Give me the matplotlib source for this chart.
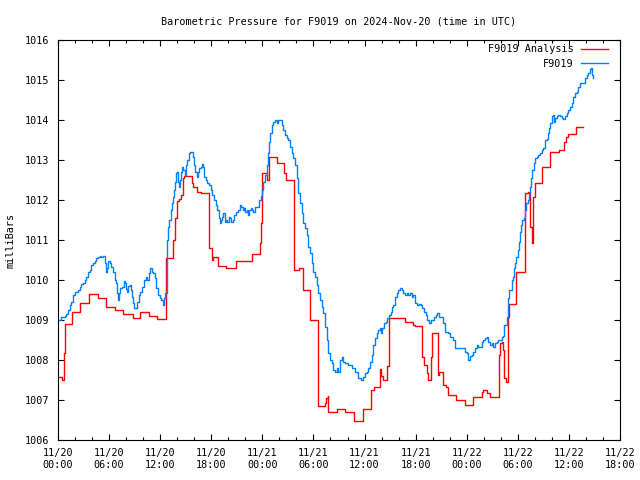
import matplotlib
matplotlib.use("Agg")
import matplotlib.pyplot as plt
import numpy as np

# ---- data (hours since 2024-11-20 00:00 UTC, pressure in mb) ----
obs_hours = [0.00, 0.39, 0.79, 0.97, 1.17, 1.37, 1.56, 1.76, 1.96, 2.15, 2.35, 2.55, 2.74, 2.94,
             3.14, 3.32, 3.52, 3.72, 3.91, 4.11, 4.31, 4.50, 4.70, 4.90, 5.09, 5.28, 5.48, 5.60,
             5.75, 5.87, 6.07, 6.26, 6.46, 6.66, 6.85, 6.96, 7.05, 7.16, 7.32, 7.55, 7.72, 7.83,
             7.95, 8.10, 8.22, 8.42, 8.54, 8.69, 8.84, 8.93, 9.13, 9.28, 9.48, 9.67, 9.87, 10.10,
             10.30, 10.49, 10.65, 10.84, 11.00, 11.16, 11.36, 11.54, 11.74, 11.94, 12.13, 12.33,
             12.45, 12.60, 12.77, 12.95, 13.07, 13.24, 13.35, 13.47, 13.62, 13.74, 13.86, 14.01,
             14.13, 14.25, 14.33, 14.44, 14.56, 14.72, 14.88, 15.03, 15.18, 15.35, 15.50, 15.70,
             15.82, 15.97, 16.12, 16.29, 16.44, 16.59, 16.76, 16.88, 16.99, 17.15, 17.35, 17.53,
             17.73, 17.93, 18.12, 18.32, 18.52, 18.71, 18.87, 18.99, 19.11, 19.26, 19.41, 19.58,
             19.73, 19.88, 20.05, 20.20, 20.35, 20.52, 20.67, 20.90, 21.17, 21.37, 21.53, 21.69,
             21.84, 22.00, 22.16, 22.31, 22.47, 22.63, 22.78, 22.94, 23.17, 23.61, 23.84, 23.99,
             24.11, 24.31, 24.51, 24.63, 24.78, 24.90, 25.10, 25.28, 25.48, 25.68, 25.87, 26.07,
             26.27, 26.46, 26.66, 26.86, 27.05, 27.25, 27.45, 27.63, 27.83, 28.03, 28.22, 28.42,
             28.62, 28.81, 29.01, 29.21, 29.40, 29.59, 29.79, 29.98, 30.18, 30.38, 30.57, 30.77,
             30.97, 31.16, 31.36, 31.56, 31.74, 31.94, 32.14, 32.33, 32.53, 32.73, 32.92, 33.12,
             33.32, 33.51, 33.71, 34.09, 34.49, 34.88, 35.27, 35.58, 35.85, 36.05, 36.25, 36.44,
             36.64, 36.84, 37.03, 37.23, 37.43, 37.62, 37.82, 37.93, 38.09, 38.29, 38.52, 38.67,
             38.91, 39.07, 39.19, 39.38, 39.58, 39.78, 39.97, 40.16, 40.36, 40.55, 40.75, 40.95,
             41.14, 41.34, 41.54, 41.73, 41.93, 42.20, 42.40, 42.60, 42.78, 42.98, 43.18, 43.37,
             43.57, 43.77, 43.96, 44.16, 44.39, 44.54, 44.74, 45.18, 45.45, 45.84, 46.04, 46.35,
             46.62, 47.60, 47.80, 48.00, 48.19, 48.38, 48.58, 48.77, 48.97, 49.17, 49.36, 49.56,
             49.76, 49.95, 50.15, 50.35, 50.53, 50.73, 50.93, 51.12, 51.32, 51.52, 51.71, 51.91,
             52.11, 52.30, 52.41, 52.58, 52.69, 52.81, 52.88, 53.00, 53.12, 53.28, 53.40, 53.52,
             53.67, 53.82, 53.99, 54.10, 54.26, 54.37, 54.53, 54.69, 54.84, 55.00, 55.16, 55.31,
             55.43, 55.55, 55.70, 55.87, 56.02, 56.22, 56.41, 56.61, 56.81, 56.99, 57.19, 57.39,
             57.51, 57.66, 57.82, 57.98, 58.10, 58.21, 58.37, 58.57, 58.75, 58.95, 59.15, 59.34,
             59.54, 59.74, 59.93, 60.13, 60.33, 60.52, 60.72, 60.92, 61.10, 61.30, 61.50, 61.69,
             61.89, 62.09, 62.28, 62.48, 62.60, 62.68, 62.79]
obs_mb = [1009.00, 1009.07, 1009.10, 1009.15, 1009.25, 1009.38, 1009.46, 1009.63, 1009.69, 1009.71,
          1009.75, 1009.83, 1009.90, 1009.92, 1010.00, 1010.08, 1010.19, 1010.25, 1010.38, 1010.42,
          1010.48, 1010.54, 1010.58, 1010.60, 1010.58, 1010.60, 1010.42, 1010.21, 1010.29, 1010.48,
          1010.42, 1010.33, 1010.21, 1010.00, 1009.92, 1009.67, 1009.50, 1009.67, 1009.79, 1009.83,
          1009.98, 1009.92, 1009.77, 1009.71, 1009.85, 1009.88, 1009.75, 1009.58, 1009.42, 1009.29,
          1009.29, 1009.46, 1009.63, 1009.71, 1009.83, 1010.00, 1010.08, 1010.00, 1010.17, 1010.29,
          1010.21, 1010.17, 1010.04, 1009.79, 1009.63, 1009.54, 1009.50, 1009.38, 1009.55, 1009.67,
          1011.00, 1011.33, 1011.50, 1011.75, 1011.92, 1012.08, 1012.25, 1012.46, 1012.67, 1012.71,
          1012.46, 1012.33, 1012.50, 1012.71, 1012.83, 1012.75, 1012.63, 1012.88, 1013.00, 1013.17,
          1013.21, 1013.21, 1013.08, 1012.88, 1012.71, 1012.58, 1012.71, 1012.79, 1012.83, 1012.90,
          1012.83, 1012.58, 1012.50, 1012.42, 1012.38, 1012.25, 1012.13, 1012.00, 1011.88, 1011.75,
          1011.54, 1011.42, 1011.50, 1011.58, 1011.67, 1011.46, 1011.50, 1011.46, 1011.58, 1011.54,
          1011.46, 1011.50, 1011.63, 1011.71, 1011.75, 1011.88, 1011.83, 1011.75, 1011.79, 1011.71,
          1011.75, 1011.63, 1011.75, 1011.79, 1011.75, 1011.71, 1011.83, 1012.00, 1012.10, 1012.25,
          1012.46, 1012.63, 1012.88, 1013.17, 1013.46, 1013.67, 1013.88, 1013.96, 1014.00, 1013.92,
          1014.00, 1014.00, 1013.88, 1013.75, 1013.63, 1013.54, 1013.50, 1013.33, 1013.17, 1013.04,
          1012.88, 1012.54, 1012.17, 1011.92, 1011.67, 1011.42, 1011.29, 1011.13, 1010.83, 1010.67,
          1010.42, 1010.21, 1010.08, 1009.88, 1009.67, 1009.50, 1009.33, 1009.17, 1008.83, 1008.50,
          1008.17, 1008.00, 1007.92, 1007.75, 1007.71, 1007.79, 1007.71, 1008.00, 1008.08, 1007.96,
          1007.92, 1007.88, 1007.79, 1007.71, 1007.54, 1007.50, 1007.58, 1007.67, 1007.71, 1007.79,
          1007.96, 1008.13, 1008.38, 1008.54, 1008.67, 1008.75, 1008.79, 1008.67, 1008.79, 1008.92,
          1008.96, 1009.04, 1009.13, 1009.21, 1009.33, 1009.38, 1009.58, 1009.67, 1009.75, 1009.79,
          1009.75, 1009.67, 1009.63, 1009.68, 1009.63, 1009.67, 1009.58, 1009.63, 1009.42, 1009.38,
          1009.39, 1009.38, 1009.29, 1009.21, 1009.13, 1009.00, 1008.92, 1009.00, 1009.00, 1009.08,
          1009.13, 1009.18, 1009.08, 1008.92, 1008.71, 1008.67, 1008.58, 1008.50, 1008.29, 1008.29,
          1008.21, 1008.17, 1008.00, 1008.10, 1008.13, 1008.21, 1008.29, 1008.38, 1008.33, 1008.33,
          1008.46, 1008.50, 1008.54, 1008.58, 1008.46, 1008.38, 1008.42, 1008.33, 1008.42, 1008.46,
          1008.50, 1008.50, 1008.58, 1008.60, 1008.88, 1008.88, 1009.08, 1009.33, 1009.54, 1009.75,
          1009.75, 1010.00, 1010.08, 1010.29, 1010.42, 1010.58, 1010.75, 1010.96, 1011.21, 1011.38,
          1011.50, 1011.54, 1011.75, 1011.92, 1012.00, 1012.17, 1012.33, 1012.54, 1012.75, 1012.92,
          1013.04, 1013.08, 1013.13, 1013.17, 1013.25, 1013.29, 1013.50, 1013.52, 1013.67, 1013.79,
          1013.92, 1014.10, 1014.13, 1013.96, 1014.04, 1014.10, 1014.13, 1014.10, 1014.04, 1014.02,
          1014.10, 1014.17, 1014.25, 1014.33, 1014.42, 1014.58, 1014.67, 1014.71, 1014.83, 1014.92,
          1014.93, 1014.92, 1015.04, 1015.13, 1015.17, 1015.27, 1015.29, 1015.13, 1015.04]

ana_hours = [0.00, 0.47, 0.70, 0.82, 1.64, 2.58, 3.64, 4.70, 5.64, 6.69, 7.63, 8.81, 9.63, 10.69,
             11.63, 12.68, 13.47, 13.71, 13.94, 14.18, 14.41, 14.64, 14.80, 15.68, 15.85, 16.29,
             16.79, 17.79, 18.03, 18.24, 18.79, 19.73, 20.85, 22.78, 23.69, 23.80, 23.92, 24.01,
             24.58, 24.78, 25.75, 26.54, 26.78, 27.77, 28.27, 28.74, 29.59, 30.57, 31.30, 31.47,
             31.65, 31.74, 32.76, 33.74, 34.76, 35.78, 36.76, 37.11, 37.82, 37.93, 38.17, 38.67,
             38.84, 40.75, 41.66, 41.93, 42.78, 43.02, 43.30, 43.49, 43.77, 43.89, 44.66, 44.80,
             45.18, 45.57, 45.84, 46.74, 47.80, 48.77, 49.79, 49.95, 50.35, 50.73, 51.79, 51.91,
             52.14, 52.26, 52.38, 52.58, 52.81, 52.88, 53.00, 53.84, 54.84, 54.90, 55.19, 55.43,
             55.70, 55.82, 56.02, 56.84, 57.82, 58.80, 59.42, 59.62, 59.86, 60.83, 61.69]
ana_mb = [1007.58, 1007.50, 1008.18, 1008.90, 1009.20, 1009.43, 1009.65, 1009.55, 1009.33, 1009.25,
          1009.15, 1009.05, 1009.20, 1009.10, 1009.03, 1010.55, 1011.00, 1011.55, 1011.98, 1012.03,
          1012.13, 1012.55, 1012.60, 1012.43, 1012.33, 1012.20, 1012.18, 1010.80, 1010.50, 1010.58,
          1010.35, 1010.30, 1010.48, 1010.65, 1010.93, 1011.43, 1011.93, 1012.68, 1012.50, 1013.08,
          1012.93, 1012.68, 1012.50, 1010.25, 1010.30, 1009.75, 1009.00, 1006.85, 1006.93, 1007.05,
          1007.10, 1006.71, 1006.78, 1006.71, 1006.48, 1006.78, 1007.25, 1007.33, 1007.78, 1007.60,
          1007.50, 1007.85, 1009.04, 1008.94, 1008.88, 1008.85, 1008.08, 1007.88, 1007.68, 1007.50,
          1008.08, 1008.67, 1007.63, 1007.70, 1007.38, 1007.33, 1007.13, 1007.00, 1006.88, 1007.08,
          1007.20, 1007.25, 1007.17, 1007.07, 1008.13, 1008.42, 1008.46, 1008.25, 1007.54, 1007.46,
          1008.42, 1009.08, 1009.40, 1010.20, 1010.83, 1012.17, 1012.20, 1011.33, 1010.92, 1012.08,
          1012.43, 1012.82, 1013.19, 1013.25, 1013.46, 1013.57, 1013.65, 1013.83, 1013.83]

xtick_hours = list(range(0, 67, 6))
xtick_labels = ["11/20\n00:00", "11/20\n06:00", "11/20\n12:00", "11/20\n18:00",
                "11/21\n00:00", "11/21\n06:00", "11/21\n12:00", "11/21\n18:00",
                "11/22\n00:00", "11/22\n06:00", "11/22\n12:00", "11/22\n18:00"]
ytick_values = list(range(1006, 1017))

# ---- figure ----
FONT = "DejaVu Sans Mono"
FS = 7.3
plt.rcParams["font.family"] = FONT
plt.rcParams["font.size"] = FS

fig = plt.figure(figsize=(6.4, 4.8), dpi=100)
ax = fig.add_axes([58 / 640, 40 / 480, 562 / 640, 400 / 480])

ax.plot(ana_hours, ana_mb, drawstyle="steps-post", color="#ff0000", lw=1.0,
        label="F9019 Analysis")
ax.plot(obs_hours, obs_mb, drawstyle="steps-post", color="#0080ff", lw=1.0,
        label="F9019")

ax.set_xlim(0, 66)
ax.set_ylim(1006, 1016)
ax.set_xticks(xtick_hours)
ax.set_xticklabels(xtick_labels)
ax.set_xticks(list(range(0, 67, 2)), minor=True)
ax.set_yticks(ytick_values)
ax.set_yticklabels([str(v) for v in ytick_values])

ax.tick_params(which="both", direction="in", top=True, right=True, width=0.8,
               labelsize=FS)
ax.tick_params(which="major", length=4.5, pad=6)
ax.tick_params(which="minor", length=2.2)
for s in ax.spines.values():
    s.set_linewidth(0.8)

ax.set_ylabel("milliBars", labelpad=7, fontsize=FS)
ax.set_title("Barometric Pressure for F9019 on 2024-Nov-20 (time in UTC)",
             pad=11, fontsize=FS)

ax.legend(loc="upper right", bbox_to_anchor=(1 - 8 / 562, 1), frameon=False,
          markerfirst=False, handlelength=2.7, handletextpad=0.7, labelspacing=0.45,
          borderaxespad=0.2, borderpad=0.2, fontsize=FS)

fig.savefig("out.png", dpi=100)
